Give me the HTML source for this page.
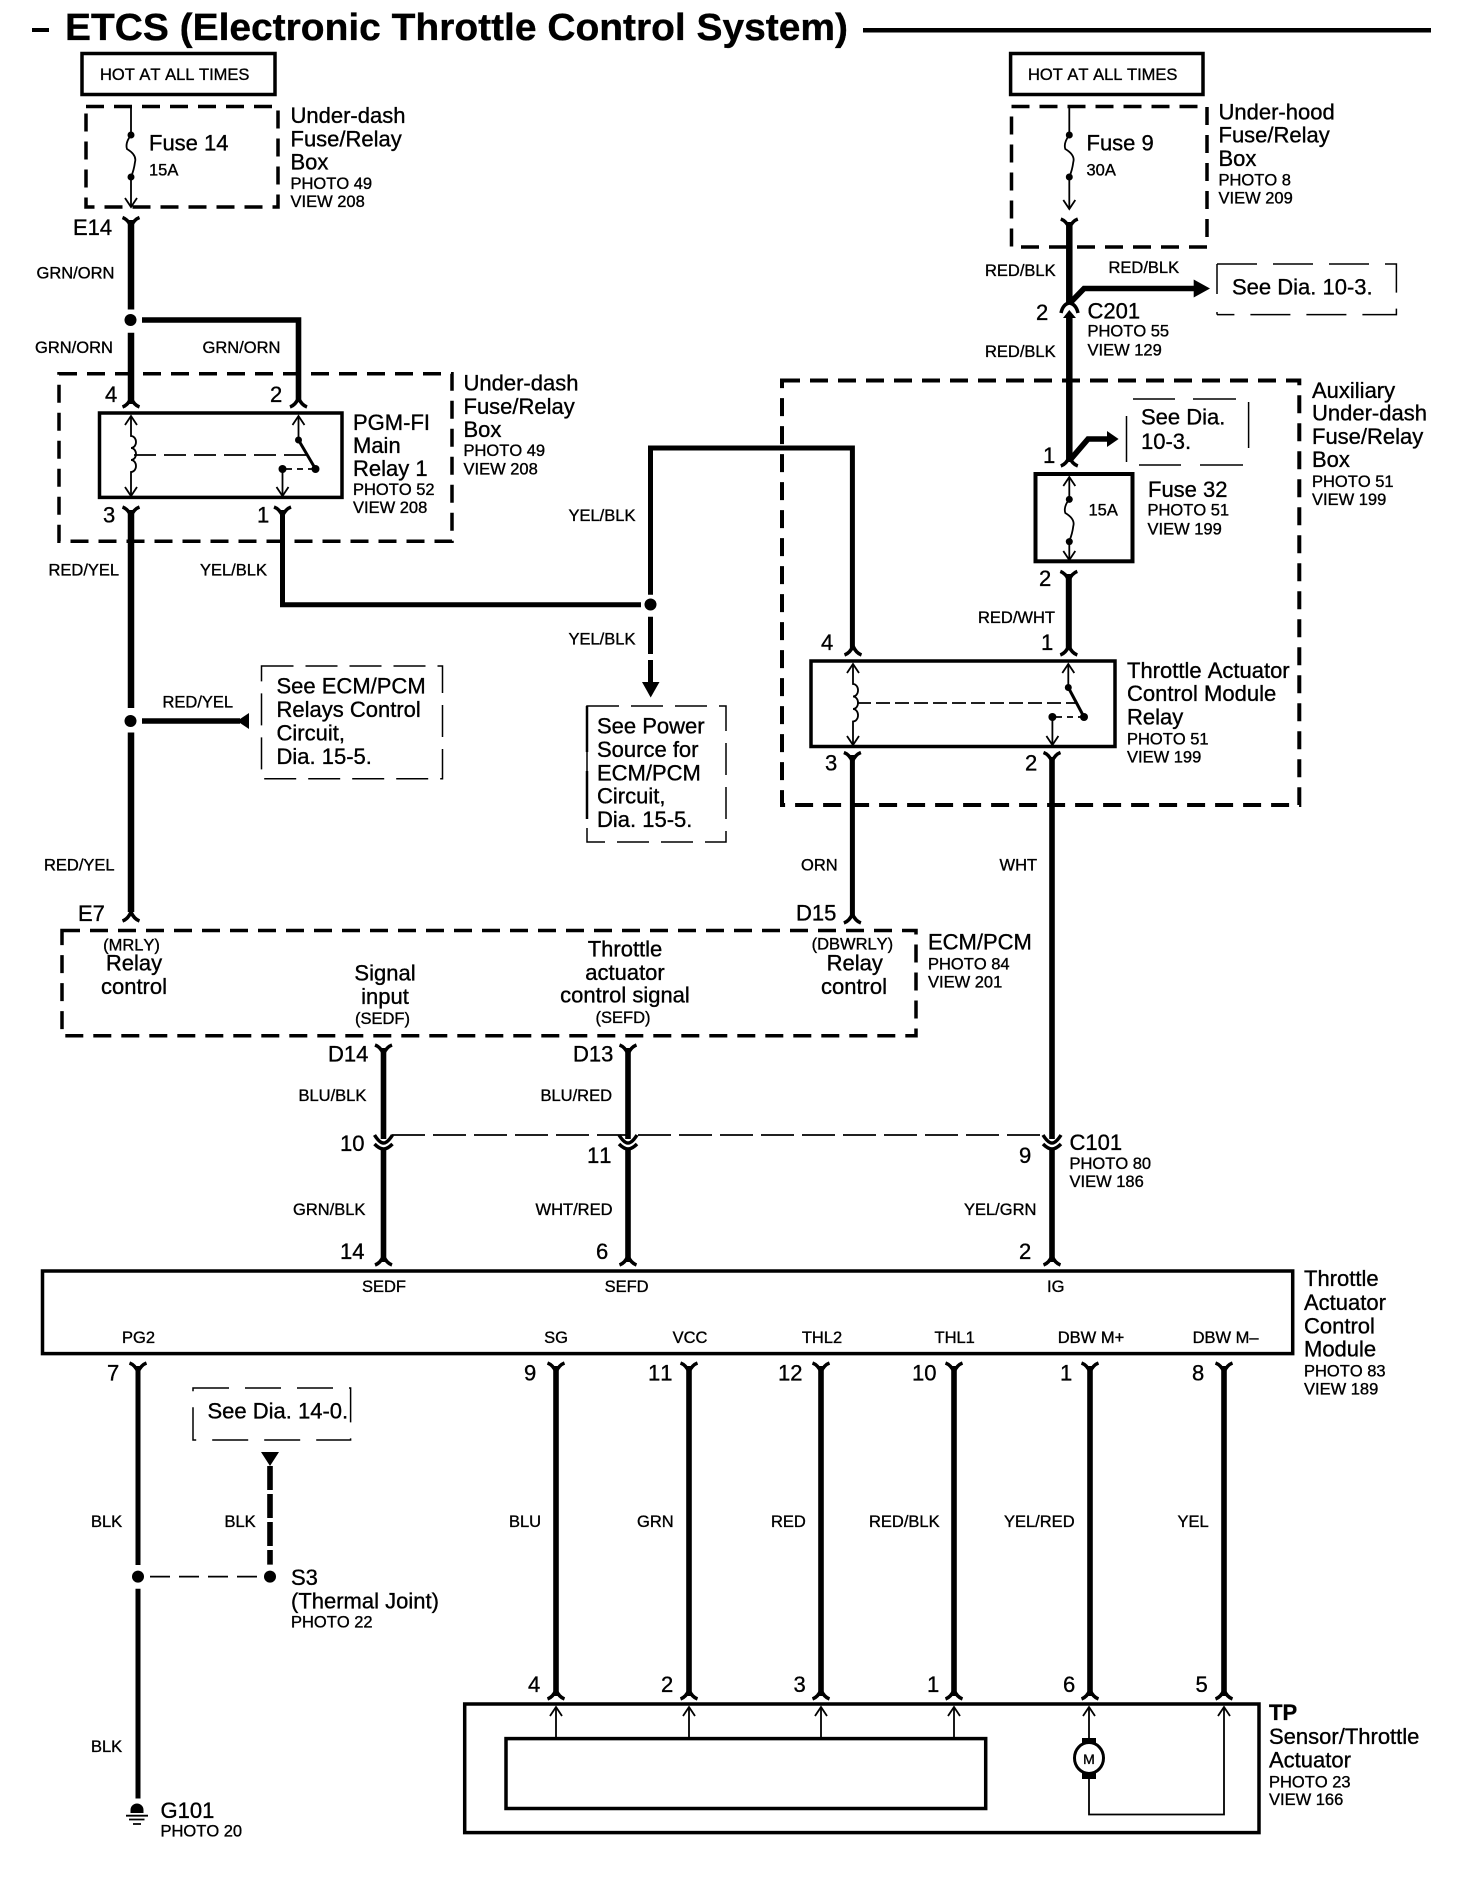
<!DOCTYPE html>
<html>
<head>
<meta charset="utf-8">
<style>
html,body{margin:0;padding:0;background:#fff}
svg{display:block}
text{font-family:"Liberation Sans",sans-serif;fill:#000;stroke:#000;stroke-width:.35;font-kerning:none}
.s{font-size:16.5px}
.b{font-size:22px}
.m{text-anchor:middle}
.t{font-size:37.6px;font-weight:bold}
.w{fill:none;stroke:#000;stroke-width:5.6}
.n{fill:none;stroke:#000;stroke-width:1.8}
.bx{fill:none;stroke:#000;stroke-width:3.5}
.d{fill:none;stroke:#000;stroke-width:3.5;stroke-dasharray:18 10}
.th{fill:none;stroke:#000;stroke-width:1.5;stroke-dasharray:32 12}
</style>
</head>
<body>
<svg xmlns="http://www.w3.org/2000/svg" width="1472" height="1884" viewBox="0 0 1472 1884">
<defs>
<path id="yy" d="M-8.5 0Q-3 2 0 9Q3 2 8.5 0" fill="none" stroke="#000" stroke-width="3.5"/>
<path id="aa" d="M-8.5 0Q-3 -2 0 -9Q3 -2 8.5 0" fill="none" stroke="#000" stroke-width="3.5"/>
<path id="ad" d="M-6 -9L0 0L6 -9" fill="none" stroke="#000" stroke-width="1.8"/>
<path id="au" d="M-6 9L0 0L6 9" fill="none" stroke="#000" stroke-width="1.8"/>
<path id="vv" d="M-9 -6Q-4 2 0 2Q4 2 9 -6M-9 3Q-4 8 0 8Q4 8 9 3" fill="none" stroke="#000" stroke-width="3.5"/>
</defs>

<!-- title -->
<rect x="32" y="28" width="17" height="4"/>
<text class="t" x="65" y="40" textLength="783" lengthAdjust="spacingAndGlyphs">ETCS (Electronic Throttle Control System)</text>
<rect x="863" y="28" width="568" height="4.5"/>

<!-- left hot + fuse -->
<rect class="bx" x="82" y="53.5" width="193" height="41"/>
<text class="s" x="100" y="80">HOT AT ALL TIMES</text>
<rect class="d" x="86" y="106.5" width="192" height="100.5"/>
<path class="n" d="M131 106.5V135q-6 8-4 14q10 6 8 13q-1 8-4 15V207"/>
<circle cx="131" cy="135" r="3.5"/><circle cx="131" cy="177" r="3.5"/>
<use href="#ad" x="131" y="207"/>
<text class="b" x="149" y="150.7">Fuse 14</text>
<text class="s" x="149" y="175.6">15A</text>
<text class="b" x="290.5" y="123">Under-dash</text>
<text class="b" x="290.5" y="146.7">Fuse/Relay</text>
<text class="b" x="290.5" y="169.6">Box</text>
<text class="s" x="290.5" y="188.8">PHOTO 49</text>
<text class="s" x="290.5" y="207">VIEW 208</text>

<use href="#yy" x="131" y="217.5"/>
<text class="b" x="73" y="235">E14</text>
<path class="w" d="M131 220V309.5" style="stroke-width:6.5"/>
<text class="s" x="36.5" y="278.4">GRN/ORN</text>
<circle cx="130.5" cy="320" r="6"/>
<path class="w" d="M131 332.7V404" style="stroke-width:6.5"/>
<path class="w" d="M142 320H298.5V402"/>
<text class="s" x="35" y="352.8">GRN/ORN</text>
<text class="s" x="202.5" y="352.8">GRN/ORN</text>

<!-- under-dash box -->
<rect class="d" x="59" y="373.7" width="393" height="167.5"/>
<text class="b" x="463.5" y="390.5">Under-dash</text>
<text class="b" x="463.5" y="413.9">Fuse/Relay</text>
<text class="b" x="463.5" y="437">Box</text>
<text class="s" x="463.5" y="456">PHOTO 49</text>
<text class="s" x="463.5" y="474.5">VIEW 208</text>
<text class="b" x="105" y="401.8">4</text>
<text class="b" x="270" y="401.8">2</text>
<use href="#aa" x="131" y="407"/>
<use href="#aa" x="298.5" y="407"/>
<rect class="bx" x="99.5" y="413" width="242.5" height="84.4"/>
<path class="n" d="M131 416V436a5 6 0 0 1 0 12a5 6 0 0 1 0 12a5 6 0 0 1 0 12V496"/>
<use href="#au" x="131" y="416"/><use href="#ad" x="131" y="496"/>
<path class="n" d="M134 455H307" style="stroke-dasharray:22 8"/>
<path class="n" d="M298.5 416V440"/>
<use href="#au" x="298.5" y="416"/>
<circle cx="298.5" cy="440" r="3.5"/>
<path class="n" d="M298.5 440L315.5 469" style="stroke-width:3"/>
<circle cx="315.5" cy="469" r="4"/>
<circle cx="282.5" cy="469" r="4"/>
<path class="n" d="M286 469H313" style="stroke-dasharray:6 5"/>
<path class="n" d="M282.5 469V496"/><use href="#ad" x="282.5" y="496"/>
<text class="b" x="353" y="430">PGM-FI</text>
<text class="b" x="353" y="453">Main</text>
<text class="b" x="353" y="476">Relay 1</text>
<text class="s" x="353" y="495">PHOTO 52</text>
<text class="s" x="353" y="513">VIEW 208</text>
<text class="b" x="103" y="522.3">3</text>
<text class="b" x="257" y="522.3">1</text>
<use href="#yy" x="131" y="507"/>
<use href="#yy" x="282.5" y="507"/>
<path class="w" d="M131 510V708" style="stroke-width:6.5"/>
<path class="w" d="M282.5 510V604.7H641" style="stroke-width:5"/>
<text class="s" x="48.5" y="575.4">RED/YEL</text>
<text class="s" x="200" y="575.4">YEL/BLK</text>

<!-- centre YEL/BLK -->
<circle cx="650.5" cy="604.5" r="6"/>
<path class="w" d="M650.5 594.7V448H852.4V650" style="stroke-width:5"/>
<path class="w" d="M650.5 616.8V654M650.5 660V683" style="stroke-width:5"/>
<path d="M642 682H659.5L650.7 697.5Z"/>
<text class="s" x="568.5" y="521">YEL/BLK</text>
<text class="s" x="568.5" y="644.5">YEL/BLK</text>
<path class="th" d="M587 706H726V842H587Z" />
<path d="M587 706V752M587 771V819" stroke="#000" stroke-width="2.5" fill="none"/>
<text class="b" x="597" y="733.7">See Power</text>
<text class="b" x="597" y="757">Source for</text>
<text class="b" x="597" y="780.7">ECM/PCM</text>
<text class="b" x="597" y="803.6">Circuit,</text>
<text class="b" x="597" y="827">Dia. 15-5.</text>

<!-- RED/YEL branch -->
<circle cx="130.5" cy="721" r="6"/>
<path class="w" d="M131 732.5V912" style="stroke-width:6.5"/>
<path class="w" d="M142 721H240"/>
<path d="M249 713V729L237 721Z"/>
<text class="s" x="162.5" y="707.5">RED/YEL</text>
<rect class="th" x="261.5" y="666" width="181" height="112.7"/>
<text class="b" x="276.5" y="693.5">See ECM/PCM</text>
<text class="b" x="276.5" y="717">Relays Control</text>
<text class="b" x="276.5" y="740.5">Circuit,</text>
<text class="b" x="276.5" y="764">Dia. 15-5.</text>
<text class="s" x="44" y="870.3">RED/YEL</text>
<text class="b" x="78" y="921">E7</text>
<use href="#aa" x="131" y="921"/>

<!-- ECM box -->
<rect class="d" x="62" y="930.5" width="854" height="105.3"/>
<text class="s m" x="131.5" y="950.5">(MRLY)</text>
<text class="b m" x="134" y="970.5">Relay</text>
<text class="b m" x="134" y="994">control</text>
<text class="b m" x="385" y="980.6">Signal</text>
<text class="b m" x="385" y="1004">input</text>
<text class="s m" x="382.5" y="1024">(SEDF)</text>
<text class="b m" x="625" y="956.5">Throttle</text>
<text class="b m" x="625" y="979.8">actuator</text>
<text class="b m" x="625" y="1002.7">control signal</text>
<text class="s m" x="623" y="1023">(SEFD)</text>
<text class="s m" x="852.4" y="949.6">(DBWRLY)</text>
<text class="b m" x="854.8" y="970.7">Relay</text>
<text class="b m" x="854" y="994">control</text>
<text class="b" x="928" y="949.4">ECM/PCM</text>
<text class="s" x="928" y="969.5">PHOTO 84</text>
<text class="s" x="928" y="987.6">VIEW 201</text>
<text class="b" x="796" y="920.5">D15</text>
<use href="#aa" x="852.4" y="923"/>

<!-- D14 D13 -->
<text class="b" x="328" y="1061.5">D14</text>
<text class="b" x="573" y="1061.5">D13</text>
<use href="#yy" x="383.5" y="1045"/><use href="#yy" x="628" y="1045"/>
<path class="w" d="M383.5 1048V1139M628 1048V1139M1052 757V1139"/>
<path class="w" d="M383.5 1149V1262M628 1149V1262M1052 1149V1262"/>
<use href="#vv" x="383.5" y="1141"/><use href="#vv" x="628" y="1141"/><use href="#vv" x="1052" y="1141"/>
<path class="n" d="M392 1135H1043" style="stroke-dasharray:33 8"/>
<text class="s" x="298.5" y="1101">BLU/BLK</text>
<text class="s" x="540.5" y="1101">BLU/RED</text>
<text class="b" x="340" y="1151">10</text>
<text class="b" x="587" y="1163">11</text>
<text class="s" x="293" y="1215">GRN/BLK</text>
<text class="s" x="535.5" y="1215">WHT/RED</text>
<text class="b" x="340" y="1259">14</text>
<text class="b" x="596" y="1259">6</text>
<use href="#aa" x="383.5" y="1265"/><use href="#aa" x="628" y="1265"/><use href="#aa" x="1052" y="1265"/>
<text class="b" x="1069.5" y="1150">C101</text>
<text class="s" x="1069.5" y="1169">PHOTO 80</text>
<text class="s" x="1069.5" y="1187">VIEW 186</text>
<text class="b" x="1019" y="1163">9</text>
<text class="s" x="964" y="1215">YEL/GRN</text>
<text class="b" x="1019" y="1259">2</text>

<!-- right hot + fuse -->
<rect class="bx" x="1010.6" y="53.5" width="192.4" height="41"/>
<text class="s" x="1028" y="80">HOT AT ALL TIMES</text>
<rect class="d" x="1011.5" y="106.5" width="195.5" height="140.5"/>
<path class="n" d="M1069.3 106.5V135q-6 8-4 14q10 6 8 13q-1 8-4 15V209"/>
<circle cx="1069.3" cy="135" r="3.5"/><circle cx="1069.3" cy="177" r="3.5"/>
<use href="#ad" x="1069.3" y="209"/>
<text class="b" x="1086.5" y="150.7">Fuse 9</text>
<text class="s" x="1086.5" y="175.6">30A</text>
<text class="b" x="1218.5" y="119.7">Under-hood</text>
<text class="b" x="1218.5" y="142.6">Fuse/Relay</text>
<text class="b" x="1218.5" y="166">Box</text>
<text class="s" x="1218.5" y="185.6">PHOTO 8</text>
<text class="s" x="1218.5" y="203.7">VIEW 209</text>
<use href="#yy" x="1069.3" y="219"/>
<path class="w" d="M1069.3 222V303" style="stroke-width:6.5"/>
<path class="w" d="M1070 303L1084 288.5H1195"/>
<path d="M1193.7 279.5L1210 288.5L1193.7 297.5Z"/>
<text class="s" x="985" y="276">RED/BLK</text>
<text class="s" x="1108.5" y="273">RED/BLK</text>
<path d="M1061 313Q1063 304 1069.3 303Q1076 304 1078 313" fill="none" stroke="#000" stroke-width="3.5"/>
<path d="M1063 318L1069.3 310L1076 318Z"/>
<path class="w" d="M1069.3 316V462" style="stroke-width:6.5"/>
<text class="b" x="1036" y="320">2</text>
<text class="b" x="1087.5" y="318.6">C201</text>
<text class="s" x="1087.5" y="336.7">PHOTO 55</text>
<text class="s" x="1087.5" y="355.6">VIEW 129</text>
<text class="s" x="985" y="356.8">RED/BLK</text>
<path d="M1217 264V314.6" stroke="#000" stroke-width="1.5" stroke-dasharray="30 18" fill="none"/>
<path class="th" d="M1217 264H1396.4V314.6H1217" style="stroke-dasharray:40 16"/>
<text class="b" x="1232" y="294.5">See Dia. 10-3.</text>

<!-- aux box -->
<rect class="d" x="782" y="380.5" width="517.3" height="424.5" style="stroke-width:4"/>
<text class="b" x="1312" y="397.8">Auxiliary</text>
<text class="b" x="1312" y="420.7">Under-dash</text>
<text class="b" x="1312" y="444">Fuse/Relay</text>
<text class="b" x="1312" y="467">Box</text>
<text class="s" x="1312" y="487">PHOTO 51</text>
<text class="s" x="1312" y="505">VIEW 199</text>
<path class="w" d="M1070 460L1088 439H1108"/>
<path d="M1107 431L1118.6 439L1107 447Z"/>
<path d="M1126.5 416V462M1248.6 402V448M1133 399H1175M1193 399H1236M1139 465H1181M1200 465H1243" stroke="#000" stroke-width="1.5" fill="none"/>
<text class="b" x="1141" y="424.7">See Dia.</text>
<text class="b" x="1141" y="448.8">10-3.</text>
<text class="b" x="1043" y="463">1</text>
<use href="#aa" x="1069.3" y="466"/>
<rect class="bx" x="1035.5" y="474" width="97" height="87.3" style="stroke-width:4"/>
<path class="n" d="M1069.3 477V499q-6 8-4 14q10 6 8 13q-1 8-4 15V560"/>
<use href="#au" x="1069.3" y="477"/><use href="#ad" x="1069.3" y="560"/>
<circle cx="1069.3" cy="499.4" r="3.5"/><circle cx="1069.3" cy="541.6" r="3.5"/>
<text class="s" x="1088.5" y="515.5">15A</text>
<text class="b" x="1148" y="497">Fuse 32</text>
<text class="s" x="1147.5" y="515.5">PHOTO 51</text>
<text class="s" x="1147.5" y="534.4">VIEW 199</text>
<text class="b" x="1039" y="585.8">2</text>
<use href="#yy" x="1068.8" y="571.4"/>
<path class="w" d="M1068.8 574V650" style="stroke-width:6"/>
<text class="s" x="978" y="622.8">RED/WHT</text>
<text class="b" x="821" y="650">4</text>
<text class="b" x="1041" y="650">1</text>
<use href="#aa" x="853" y="655"/><use href="#aa" x="1068.8" y="655"/>

<!-- TAC relay -->
<rect class="bx" x="811" y="661" width="304" height="85.5"/>
<path class="n" d="M853 664V684a5 6.2 0 0 1 0 12.5a5 6.2 0 0 1 0 12.5a5 6.2 0 0 1 0 12.5V745"/>
<use href="#au" x="853" y="664"/><use href="#ad" x="853" y="745"/>
<path class="n" d="M857 703H1076" style="stroke-dasharray:14 5"/>
<path class="n" d="M1068.3 664V687.5"/><use href="#au" x="1068.3" y="664"/>
<circle cx="1068.3" cy="687.5" r="3.5"/>
<path class="n" d="M1068.3 687.5L1084 717" style="stroke-width:3"/>
<circle cx="1084" cy="717" r="4"/>
<circle cx="1052.4" cy="717" r="4"/>
<path class="n" d="M1056 717H1082" style="stroke-dasharray:6 5"/>
<path class="n" d="M1052.4 717V745"/><use href="#ad" x="1052.4" y="745"/>
<text class="b" x="1127" y="678">Throttle Actuator</text>
<text class="b" x="1127" y="701">Control Module</text>
<text class="b" x="1127" y="724.4">Relay</text>
<text class="s" x="1127" y="744.5">PHOTO 51</text>
<text class="s" x="1127" y="762.6">VIEW 199</text>
<text class="b" x="825" y="770.6">3</text>
<text class="b" x="1025" y="770.6">2</text>
<use href="#yy" x="852.4" y="752.5"/><use href="#yy" x="1052" y="752.5"/>
<path class="w" d="M852.4 755V916" style="stroke-width:5"/>
<text class="s" x="801" y="870.3">ORN</text>
<text class="s" x="999.5" y="870.3">WHT</text>

<!-- Throttle actuator control module -->
<rect class="bx" x="42.5" y="1271" width="1250.2" height="82.6"/>
<text class="s m" x="384" y="1292">SEDF</text>
<text class="s m" x="626.6" y="1292">SEFD</text>
<text class="s m" x="1055.7" y="1292">IG</text>
<text class="s m" x="138.5" y="1343">PG2</text>
<text class="s m" x="556" y="1343">SG</text>
<text class="s m" x="690" y="1343">VCC</text>
<text class="s m" x="822" y="1343">THL2</text>
<text class="s m" x="954.7" y="1343">THL1</text>
<text class="s m" x="1091" y="1343">DBW M+</text>
<text class="s m" x="1225.6" y="1343">DBW M–</text>
<text class="b" x="1304" y="1286">Throttle</text>
<text class="b" x="1304" y="1310">Actuator</text>
<text class="b" x="1304" y="1333.6">Control</text>
<text class="b" x="1304" y="1356.5">Module</text>
<text class="s" x="1304" y="1376.5">PHOTO 83</text>
<text class="s" x="1304" y="1394.6">VIEW 189</text>

<text class="b" x="107" y="1380.6">7</text>
<text class="b" x="524" y="1380.6">9</text>
<text class="b" x="648" y="1380.6">11</text>
<text class="b" x="778" y="1380.6">12</text>
<text class="b" x="912" y="1380.6">10</text>
<text class="b" x="1060" y="1380.6">1</text>
<text class="b" x="1192" y="1380.6">8</text>
<use href="#yy" x="138" y="1363"/><use href="#yy" x="556" y="1363"/><use href="#yy" x="689" y="1363"/><use href="#yy" x="821" y="1363"/><use href="#yy" x="954" y="1363"/><use href="#yy" x="1090" y="1363"/><use href="#yy" x="1224" y="1363"/>
<path class="w" d="M556 1366V1696M689 1366V1696M821 1366V1696M954 1366V1696M1090 1366V1696M1224 1366V1696"/>
<use href="#aa" x="556" y="1699"/><use href="#aa" x="689" y="1699"/><use href="#aa" x="821" y="1699"/><use href="#aa" x="954" y="1699"/><use href="#aa" x="1090" y="1699"/><use href="#aa" x="1224" y="1699"/>
<text class="s" x="509" y="1527">BLU</text>
<text class="s" x="637" y="1527">GRN</text>
<text class="s" x="771" y="1527">RED</text>
<text class="s" x="869" y="1527">RED/BLK</text>
<text class="s" x="1004" y="1527">YEL/RED</text>
<text class="s" x="1177.5" y="1527">YEL</text>
<text class="b" x="528" y="1692">4</text>
<text class="b" x="661" y="1692">2</text>
<text class="b" x="793.5" y="1692">3</text>
<text class="b" x="927" y="1692">1</text>
<text class="b" x="1063" y="1692">6</text>
<text class="b" x="1195.5" y="1692">5</text>

<!-- PG2/ground -->
<path class="w" d="M138 1366V1565M138 1588.7V1798.5" style="stroke-width:5"/>
<circle cx="138" cy="1576.6" r="6"/>
<circle cx="270" cy="1576.6" r="6"/>
<path class="n" d="M150 1576.6H258" style="stroke-dasharray:20 9"/>
<path class="w" d="M270 1466V1564.6" style="stroke-dasharray:24 4"/>
<path d="M261 1452H279L270 1466Z"/>
<path class="th" d="M193 1388H350.6V1440H193Z" style="stroke-dasharray:36 16"/>
<text class="b" x="207.5" y="1418.7">See Dia. 14-0.</text>
<text class="s" x="91" y="1527">BLK</text>
<text class="s" x="224.5" y="1527">BLK</text>
<text class="s" x="91" y="1752">BLK</text>
<text class="b" x="291" y="1585">S3</text>
<text class="b" x="291" y="1608.3">(Thermal Joint)</text>
<text class="s" x="291" y="1627.7">PHOTO 22</text>
<path d="M130.5 1813V1810A6.5 6.5 0 0 1 143.5 1810V1813Z"/>
<path d="M126 1815.7H148M129 1819.5H144.5M133 1824H141" stroke="#000" stroke-width="1.8" fill="none"/>
<text class="b" x="160.5" y="1818">G101</text>
<text class="s" x="160.5" y="1836.6">PHOTO 20</text>

<!-- TP box -->
<rect class="bx" x="464.7" y="1704" width="794.3" height="128.6"/>
<rect class="bx" x="506" y="1738.6" width="479.7" height="69.9"/>
<path class="n" d="M556 1707V1738M689 1707V1738M821 1707V1738M954 1707V1738M1089 1707V1742M1089 1779V1814.5H1224V1707"/>
<use href="#au" x="556" y="1707"/><use href="#au" x="689" y="1707"/><use href="#au" x="821" y="1707"/><use href="#au" x="954" y="1707"/><use href="#au" x="1089" y="1707"/><use href="#au" x="1224" y="1707"/>
<ellipse cx="1089" cy="1758" rx="14.5" ry="15.5" fill="none" stroke="#000" stroke-width="3"/>
<rect x="1082" y="1738" width="14" height="5"/><rect x="1082" y="1773" width="14" height="6"/>
<text class="s m" x="1089" y="1764" style="font-size:14px">M</text>
<text class="b" x="1269" y="1720" font-weight="bold">TP</text>
<text class="b" x="1269" y="1744">Sensor/Throttle</text>
<text class="b" x="1269" y="1767.5">Actuator</text>
<text class="s" x="1269" y="1787.6">PHOTO 23</text>
<text class="s" x="1269" y="1805">VIEW 166</text>
</svg>
</body>
</html>
